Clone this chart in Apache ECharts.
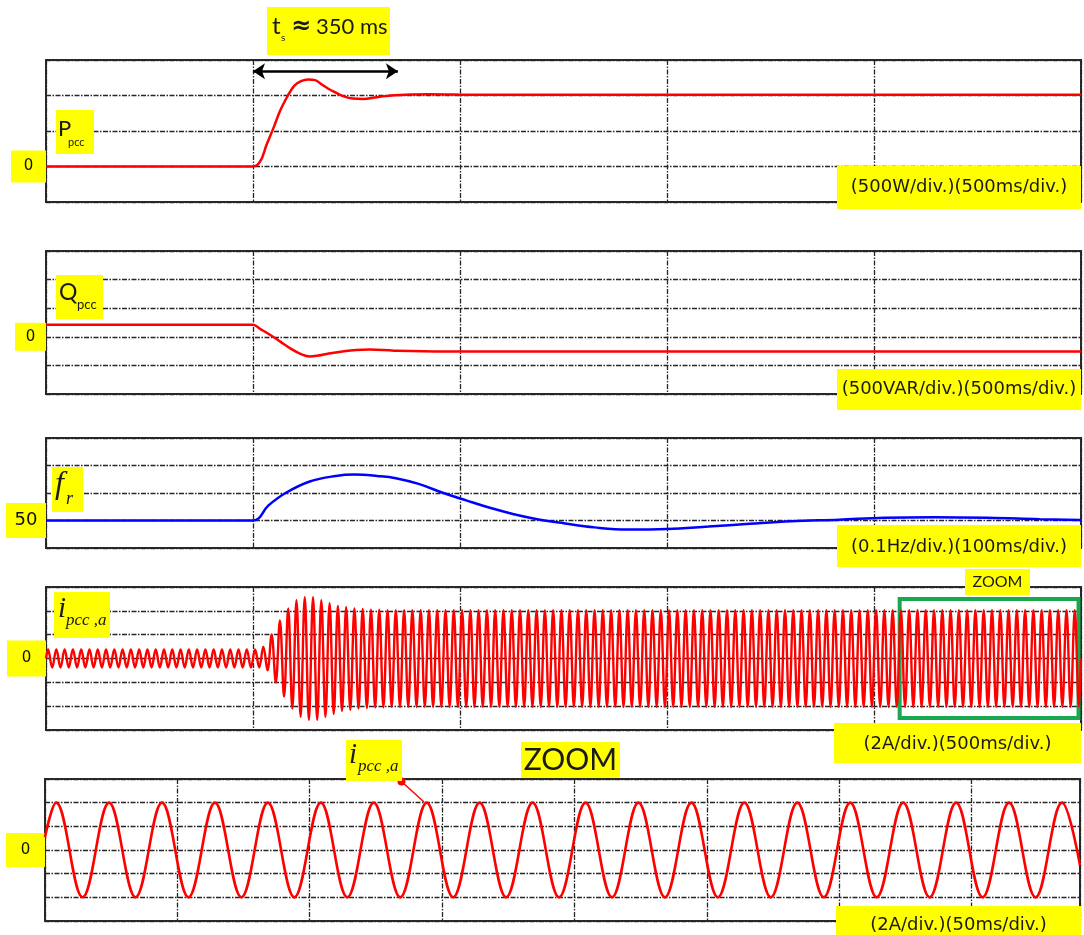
<!DOCTYPE html>
<html>
<head>
<meta charset="utf-8">
<title>PCC step response</title>
<script src="https://cdn.jsdelivr.net/npm/echarts@6/dist/echarts.min.js"></script>
<style>
  html, body { margin: 0; padding: 0; background: #fff; }
  #main { width: 1084px; height: 935px; }
</style>
</head>
<body>
<div id="main"></div>
<script>
// ---- data ----
// P_pcc (W) vs time (ms), 500 W/div, 500 ms/div
const pTime = [0, 250, 480, 500, 517, 533, 550, 566, 583, 600, 616, 633, 650, 666, 683, 699, 716, 741, 766, 799, 841, 924, 1049, 1500, 2000, 2500];
const pWatt = [0, 0, 0, 0, 68, 309, 551, 792, 986, 1140, 1203, 1227, 1217, 1155, 1092, 1043, 995, 957, 952, 976, 1005, 1019, 1010, 1010, 1010, 1010];

// Q_pcc (VAR) vs time (ms), 500 VAR/div
const qTime = [0, 250, 480, 500, 517, 541, 566, 591, 616, 637, 658, 683, 716, 749, 782, 841, 965, 1500, 2000, 2500];
const qVar = [212, 212, 212, 212, 139, 36, -85, -206, -303, -345, -327, -291, -255, -230, -224, -242, -255, -255, -255, -255];

// f_r (Hz) vs time (ms), 0.1 Hz/div, 100 ms/div
const fTime = [0, 100, 107.5, 115.7, 127.4, 140, 149, 160, 169, 180, 192, 203, 214, 226, 238, 250, 265, 281, 300, 320, 340, 360, 383, 405, 429, 455, 480, 500];
const fHz = [50, 50, 50.055, 50.1, 50.142, 50.162, 50.167, 50.162, 50.154, 50.133, 50.1, 50.073, 50.047, 50.023, 50.004, 49.99, 49.975, 49.967, 49.969, 49.978, 49.988, 49.997, 50.003, 50.01, 50.012, 50.01, 50.005, 50.002];

// i_pcc,a peak amplitude (A) of each 20 ms cycle, 2 A/div, 500 ms/div
const cycleMs = 20;
const iAmp = [
  0.75, 0.75, 0.75, 0.75, 0.75, 0.75, 0.75, 0.75, 0.75, 0.75, 0.75, 0.75, 0.75, 0.75, 0.75, 0.75, 0.75, 0.75, 0.75, 0.75, 0.75, 0.75, 0.75, 0.75, 0.75,
  0.75, 1.0, 2.0, 3.2, 4.2, 4.9, 5.15, 5.15, 4.9, 4.65, 4.4, 4.3, 4.2, 4.15, 4.1, 4.1, 4.05, 4.05, 4.05, 4.05, 4.05, 4.05, 4.05, 4.05, 4.05,
  4.05, 4.05, 4.05, 4.05, 4.05, 4.05, 4.05, 4.05, 4.05, 4.05, 4.05, 4.05, 4.05, 4.05, 4.05, 4.05, 4.05, 4.05, 4.05, 4.05, 4.05, 4.05, 4.05, 4.05, 4.05,
  4.05, 4.05, 4.05, 4.05, 4.05, 4.05, 4.05, 4.05, 4.05, 4.05, 4.05, 4.05, 4.05, 4.05, 4.05, 4.05, 4.05, 4.05, 4.05, 4.05, 4.05, 4.05, 4.05, 4.05, 4.05,
  4.05, 4.05, 4.05, 4.05, 4.05, 4.05, 4.05, 4.05, 4.05, 4.05, 4.05, 4.05, 4.05, 4.05, 4.05, 4.05, 4.05, 4.05, 4.05, 4.05, 4.05, 4.05, 4.05, 4.05, 4.05
];

// zoomed i_pcc,a, 2 A/div, 50 ms/div
const zoomAmp = [4, 4, 4, 4, 4, 4, 4, 4, 4, 4, 4, 4, 4, 4, 4, 4, 4, 4, 4, 4];
const zoomFirstPeakMs = 4.2;
const zoomStartA = 1.1;
const zoomEndA = -1.3;
const zoomEndMs = 391;

// annotations
const stepMs = 500;
const settleMs = 350;
const arrowLevelW = 1340;
const zoomWindowMs = [2062, 2494];
const zoomWindowA = [5, -5];

// ---- build series data ----
const pData = pTime.map((t, i) => [t, pWatt[i]]);
const qData = qTime.map((t, i) => [t, qVar[i]]);
const fData = fTime.map((t, i) => [t, fHz[i]]);

// one crest and one trough per cycle
const iData = [[0, 0]];
iAmp.forEach((a, k) => {
  const t0 = k * cycleMs;
  iData.push([t0 + cycleMs / 4, a], [t0 + 3 * cycleMs / 4, -a]);
});
iData.push([iAmp.length * cycleMs, 0]);

const zoomData = [[0, zoomStartA]];
zoomAmp.forEach((a, k) => {
  const tp = zoomFirstPeakMs + k * cycleMs;
  [[tp, a], [tp + cycleMs / 2, -a]].forEach(p => {
    if (p[0] < zoomEndMs) zoomData.push(p);
  });
});
zoomData.push([zoomEndMs, zoomEndA]);

// ---- layout ----
const RED = '#ff0000';
const YELLOW = '#ffff00';
const gridDefs = [
  { top: 60, height: 142 },
  { top: 251, height: 143 },
  { top: 438, height: 110 },
  { top: 587, height: 143 },
  { top: 779, height: 142 }
];
const xDefs = [
  { min: 0, max: 2500, interval: 500 },
  { min: 0, max: 2500, interval: 500 },
  { min: 0, max: 500, interval: 100 },
  { min: 0, max: 2500, interval: 500 },
  { min: 0, max: zoomEndMs, interval: 50 }
];
const yDefs = [
  { min: -500, max: 1500, interval: 500, tag: 0, w: 35, h: 32, fs: 15 },
  { min: -1000, max: 1500, interval: 500, tag: 0, w: 31, h: 28, fs: 15 },
  { min: 49.9, max: 50.3, interval: 0.1, tag: 50, w: 40, h: 35, fs: 18 },
  { min: -6, max: 6, interval: 2, tag: 0, w: 39, h: 36, fs: 15 },
  { min: -6, max: 6, interval: 2, tag: 0, w: 39, h: 34, fs: 15 }
];

const dashDot = { color: '#262626', width: 1.3, type: [5, 1.5, 1.5, 1.5] };

const grid = gridDefs.map((g, i) => ({
  left: i === 4 ? 45 : 46, top: g.top, width: 1035, height: g.height,
  show: true, borderColor: '#2a2a2a', borderWidth: 2, backgroundColor: 'transparent',
  containLabel: false, outerBoundsMode: 'none'
}));

const xAxis = xDefs.map((d, i) => ({
  type: 'value', gridIndex: i, min: d.min, max: d.max, interval: d.interval,
  axisLine: { show: false }, axisTick: { show: false }, axisLabel: { show: false },
  splitLine: { show: true, lineStyle: dashDot }
}));

const yAxis = yDefs.map((d, i) => ({
  type: 'value', gridIndex: i, min: d.min, max: d.max, interval: d.interval,
  axisLine: { show: false }, axisTick: { show: false },
  splitLine: { show: true, lineStyle: dashDot },
  axisLabel: {
    show: true, margin: 0, showMinLabel: true, showMaxLabel: true,
    formatter: v => (Math.abs(v - d.tag) < 1e-6 ? '{t|' + d.tag + '}' : ''),
    rich: {
      t: {
        backgroundColor: YELLOW, width: d.w, height: d.h, lineHeight: d.h, align: 'center',
        fontSize: d.fs, fontFamily: '"DejaVu Sans", sans-serif', color: '#111'
      }
    }
  }
}));

function line(i, data, color, width, extra) {
  return Object.assign({
    type: 'line', xAxisIndex: i, yAxisIndex: i, data: data, smooth: 0.4,
    showSymbol: false, symbol: 'none', silent: true,
    lineStyle: { color: color, width: width }, itemStyle: { color: color }
  }, extra || {});
}

const series = [
  line(0, pData, RED, 2.5, {
    markLine: {
      silent: true, symbol: ['arrow', 'arrow'], symbolSize: 12,
      label: { show: false },
      lineStyle: { color: '#000', width: 2.5, type: 'solid' },
      data: [[{ coord: [stepMs, arrowLevelW] }, { coord: [stepMs + settleMs, arrowLevelW] }]]
    }
  }),
  line(1, qData, RED, 2.5),
  line(2, fData, '#0000ff', 2.5),
  line(3, iData, RED, 2.4, {
    smooth: 0.38,
    markArea: {
      silent: true,
      itemStyle: { color: 'rgba(0,0,0,0)', borderColor: '#1aa84e', borderWidth: 4 },
      label: { show: false },
      data: [[{ coord: [zoomWindowMs[0], zoomWindowA[0]] }, { coord: [zoomWindowMs[1], zoomWindowA[1]] }]]
    }
  }),
  line(4, zoomData, RED, 2.6, { smooth: 0.38 })
];

// ---- text annotations ----
const TXT = '#1a1a1a';
const LIGHT = '"Lato", "Open Sans", sans-serif';
const SERIF = '"Liberation Serif", "DejaVu Serif", serif';
const SANS = '"DejaVu Sans", sans-serif';

function box(x, y, w, h) {
  return { type: 'rect', z: 100, shape: { x: x, y: y, width: w, height: h }, style: { fill: YELLOW } };
}
function txt(x, y, s, font, align) {
  return { type: 'text', z: 101, x: x, y: y, style: { text: s, font: font, fill: TXT, align: align || 'left', verticalAlign: 'middle' } };
}

const graphic = [
  // settling time
  box(267, 7, 123, 48),
  txt(272, 26, 't', '24px ' + LIGHT),
  txt(281, 38, 's', '10px ' + LIGHT),
  txt(291, 27, '\u2248', 'bold 24px ' + SANS),
  txt(316, 27, '350 ms', '22px ' + LIGHT),
  // P_pcc
  box(56, 110, 38, 44),
  txt(58, 129, 'P', '22px ' + LIGHT),
  txt(68, 142, 'pcc', '11px ' + LIGHT),
  box(837, 166, 244, 43),
  txt(959, 187.5, '(500W/div.)(500ms/div.)', '18px ' + SANS, 'center'),
  // Q_pcc
  box(56, 275, 47, 44),
  txt(59, 293, 'Q', '23px ' + LIGHT),
  txt(77, 305, 'pcc', '13px ' + LIGHT),
  box(837, 369, 244, 41),
  txt(959, 389, '(500VAR/div.)(500ms/div.)', '18px ' + SANS, 'center'),
  // f_r
  box(52, 467, 31, 45),
  txt(55, 485, 'f', 'italic 32px ' + SERIF),
  txt(66, 499, 'r', 'italic 18px ' + SERIF),
  box(837, 525, 244, 42),
  txt(959, 547, '(0.1Hz/div.)(100ms/div.)', '18px ' + SANS, 'center'),
  // i_pcc,a
  box(54, 592, 56, 46),
  txt(58, 609, 'i', 'italic 29px ' + SERIF),
  txt(66, 621, 'pcc ,a', 'italic 17px ' + SERIF),
  box(965, 569, 65, 26),
  txt(997.5, 582, 'ZOOM', '16px ' + LIGHT, 'center'),
  box(834, 723, 247, 40),
  txt(957.5, 744, '(2A/div.)(500ms/div.)', '18px ' + SANS, 'center'),
  // zoom panel
  box(521, 742, 99, 36),
  txt(570.5, 760, 'ZOOM', '30px ' + LIGHT, 'center'),
  box(346, 740, 56, 41),
  txt(349, 755, 'i', 'italic 29px ' + SERIF),
  txt(358, 767, 'pcc ,a', 'italic 17px ' + SERIF),
  { type: 'line', z: 99, shape: { x1: 401.5, y1: 781.5, x2: 424, y2: 802 }, style: { stroke: RED, lineWidth: 1.5 } },
  { type: 'circle', z: 99, shape: { cx: 401.5, cy: 781.5, r: 4 }, style: { fill: RED } },
  box(836, 906, 245, 37),
  txt(958.5, 925, '(2A/div.)(50ms/div.)', '18px ' + SANS, 'center')
];

const chart = echarts.init(document.getElementById('main'), null, { renderer: 'canvas' });
chart.setOption({
  backgroundColor: '#ffffff',
  animation: false,
  grid: grid,
  xAxis: xAxis,
  yAxis: yAxis,
  series: series,
  graphic: graphic
});
</script>
</body>
</html>
